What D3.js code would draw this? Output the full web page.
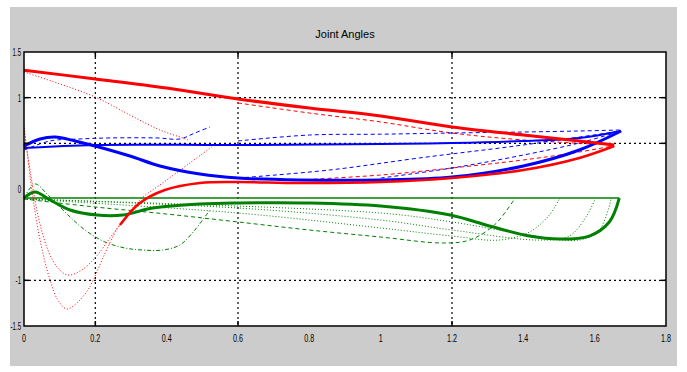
<!DOCTYPE html>
<html>
<head>
<meta charset="utf-8">
<script src="https://cdn.jsdelivr.net/npm/d3@7"></script>
<style>
  body { margin: 0; background: #fff; }
  text { font-family: "Liberation Sans", Arial, sans-serif; }
</style>
</head>
<body>
<div id="chart"></div>
<script>
// chart data: [time, angle]
const title = "Joint Angles";
const xTickValues = [0, 0.2, 0.4, 0.6, 0.8, 1, 1.2, 1.4, 1.6, 1.8];
const xTickLabels = ["0", "0.2", "0.4", "0.6", "0.8", "1", "1.2", "1.4", "1.6", "1.8"];
const yTickValues = [-1.5, -1, 0, 1, 1.5];
const yTickLabels = ["-1.5", "-1", "0", "1", "1.5"];
const xGrid = [0.2, 0.6, 1.2];
const yGrid = [-1, 0.5, 1];

const redTop = [[0,1.30],[0.2,1.205],[0.4,1.106],[0.6,0.986],[0.8,0.887],[1.0,0.80],[1.2,0.679],[1.4,0.591],[1.557,0.526],[1.655,0.482]];
const redTopDash = [[0.6,0.942],[0.8,0.832],[1.0,0.734],[1.2,0.613],[1.4,0.537],[1.65,0.482]];
const redLow = [[0.269,-0.394],[0.325,-0.153],[0.395,-0.011],[0.493,0.066],[0.6,0.077],[0.773,0.066],[1.0,0.077],[1.2,0.12],[1.4,0.208],[1.557,0.34],[1.655,0.471]];
const redDip1 = [[0,0.646],[0.017,0.208],[0.039,-0.285],[0.067,-0.668],[0.095,-0.865],[0.123,-0.942],[0.157,-0.898],[0.199,-0.756],[0.241,-0.537],[0.283,-0.318],[0.325,-0.142],[0.395,-0.011]];
const redDip2 = [[0,0.701],[0.022,-0.011],[0.045,-0.559],[0.073,-0.997],[0.095,-1.216],[0.12,-1.314],[0.151,-1.238],[0.179,-1.106],[0.19,-1.03],[0.26,-0.449],[0.325,-0.12],[0.389,0.066],[0.465,0.285],[0.526,0.46]];
const redShort = [[0,1.281],[0.101,1.15],[0.199,1.008],[0.297,0.81],[0.381,0.646],[0.445,0.559],[0.46,0.537]];
const redFan = [[0.773,0.099],[1.0,0.153],[1.2,0.23],[1.4,0.318],[1.557,0.405],[1.65,0.471]];

const blueFlat = [[0,0.449],[0.199,0.482],[0.6,0.482],[1.0,0.493],[1.2,0.504],[1.4,0.526],[1.557,0.559],[1.674,0.635]];
const blueLow = [[0,0.471],[0.045,0.548],[0.087,0.57],[0.143,0.526],[0.199,0.471],[0.297,0.361],[0.381,0.252],[0.493,0.164],[0.6,0.12],[0.773,0.099],[1.0,0.099],[1.2,0.131],[1.4,0.252],[1.557,0.427],[1.674,0.635]];
const blueShort = [[0,0.427],[0.073,0.526],[0.157,0.548],[0.241,0.559],[0.372,0.559],[0.437,0.548],[0.479,0.613],[0.521,0.679]];
const blueAbove = [[0.6,0.526],[0.8,0.591],[1.0,0.6],[1.2,0.613],[1.4,0.624],[1.557,0.635],[1.674,0.646]];
const blueFan1 = [[0.6,0.12],[0.857,0.208],[1.109,0.34],[1.4,0.482],[1.674,0.635]];
const blueFan2 = [[1.0,0.12],[1.2,0.23],[1.4,0.372],[1.557,0.504],[1.674,0.635]];

const greenFlat = [[0,-0.099],[1.669,-0.099]];
const greenThick = [[0,-0.099],[0.031,-0.033],[0.073,-0.12],[0.129,-0.23],[0.204,-0.285],[0.277,-0.285],[0.361,-0.208],[0.493,-0.164],[0.605,-0.153],[0.8,-0.153],[1.0,-0.186],[1.195,-0.285],[1.305,-0.405],[1.417,-0.515],[1.501,-0.548],[1.585,-0.515],[1.641,-0.361],[1.669,-0.099]];
const greenShort = [[0,-0.099],[0.031,0.055],[0.067,-0.066],[0.115,-0.252],[0.171,-0.449],[0.227,-0.58],[0.283,-0.646],[0.333,-0.668],[0.389,-0.668],[0.437,-0.613],[0.479,-0.449],[0.521,-0.23]];
const greenR1 = [[0,-0.11],[0.199,-0.197],[0.4,-0.274],[0.6,-0.361],[0.8,-0.449],[1.0,-0.526],[1.173,-0.591],[1.249,-0.559],[1.319,-0.394],[1.375,-0.11]];
const greenR2 = [[0,-0.11],[0.6,-0.263],[1.0,-0.427],[1.2,-0.515],[1.333,-0.559],[1.417,-0.471],[1.473,-0.285],[1.501,-0.11]];
const greenR3 = [[0,-0.11],[0.6,-0.208],[1.0,-0.34],[1.2,-0.449],[1.445,-0.559],[1.529,-0.515],[1.579,-0.285],[1.601,-0.11]];
const greenR4 = [[0,-0.11],[1.0,-0.263],[1.2,-0.361],[1.4,-0.493],[1.557,-0.559],[1.613,-0.449],[1.646,-0.11]];

const W = 687, H = 372;
const fig = { left: 10, top: 7, right: 677, bottom: 366 };
const ax = { left: 24, top: 52, right: 666, bottom: 326 };

const series = [
  { d: greenR4, c: "#008000", w: 1, dash: "1,2" },
  { d: greenR3, c: "#008000", w: 1, dash: "1,2" },
  { d: greenR2, c: "#008000", w: 1, dash: "1,2" },
  { d: greenR1, c: "#008000", w: 1, dash: "4,3" },
  { d: greenShort, c: "#008000", w: 1, dash: "4,2,1,2" },
  { d: greenFlat, c: "#008000", w: 1.5, dash: null },
  { d: greenThick, c: "#008000", w: 3, dash: null },
  { d: redDip1, c: "#ff0000", w: 1, dash: "1,2" },
  { d: redDip2, c: "#ff0000", w: 1, dash: "1,2" },
  { d: redShort, c: "#ff0000", w: 1, dash: "1,2" },
  { d: redFan, c: "#ff0000", w: 1, dash: "4,3" },
  { d: redTopDash, c: "#ff0000", w: 1, dash: "4,3" },
  { d: blueShort, c: "#0000ff", w: 1, dash: "4,3" },
  { d: blueAbove, c: "#0000ff", w: 1, dash: "4,3" },
  { d: blueFan1, c: "#0000ff", w: 1, dash: "4,3" },
  { d: blueFan2, c: "#0000ff", w: 1, dash: "4,3" },
  { d: blueFlat, c: "#0000ff", w: 2, dash: null },
  { d: blueLow, c: "#0000ff", w: 3, dash: null },
  { d: redLow, c: "#ff0000", w: 2.5, dash: null },
  { d: redTop, c: "#ff0000", w: 3, dash: null }
];

const svg = d3.select("#chart").append("svg")
  .attr("width", W)
  .attr("height", H);

svg.append("rect")
  .attr("x", fig.left).attr("y", fig.top)
  .attr("width", fig.right - fig.left).attr("height", fig.bottom - fig.top)
  .attr("fill", "#cccccc");

svg.append("rect")
  .attr("x", ax.left).attr("y", ax.top)
  .attr("width", ax.right - ax.left).attr("height", ax.bottom - ax.top)
  .attr("fill", "#ffffff");

const x = d3.scaleLinear().domain([0, 1.8]).range([ax.left, ax.right]);
const y = d3.scaleLinear().domain([-1.5, 1.5]).range([ax.bottom, ax.top]);

// dotted reference grid
svg.append("g").selectAll("line").data(xGrid).join("line")
  .attr("x1", d => x(d)).attr("x2", d => x(d))
  .attr("y1", ax.top).attr("y2", ax.bottom)
  .attr("stroke", "#000").attr("stroke-width", 1.2)
  .attr("stroke-dasharray", "2,3");

svg.append("g").selectAll("line").data(yGrid).join("line")
  .attr("x1", ax.left).attr("x2", ax.right)
  .attr("y1", d => y(d)).attr("y2", d => y(d))
  .attr("stroke", "#000").attr("stroke-width", 1.2)
  .attr("stroke-dasharray", "2,3");

const line = d3.line()
  .x(d => x(d[0]))
  .y(d => y(d[1]))
  .curve(d3.curveCatmullRom.alpha(0.5));

const plot = svg.append("g");
plot.selectAll("path").data(series).join("path")
  .attr("d", s => line(s.d))
  .attr("fill", "none")
  .attr("stroke", s => s.c)
  .attr("stroke-width", s => s.w)
  .attr("stroke-dasharray", s => s.dash)
  .attr("stroke-linejoin", "round");

// inward ticks where the grid lines meet the box
const tickLen = 5;
const ticks = svg.append("g").attr("stroke", "#000").attr("stroke-width", 1.5);
xGrid.forEach(v => {
  ticks.append("line").attr("x1", x(v)).attr("x2", x(v)).attr("y1", ax.bottom).attr("y2", ax.bottom - tickLen);
  ticks.append("line").attr("x1", x(v)).attr("x2", x(v)).attr("y1", ax.top).attr("y2", ax.top + tickLen);
});
yGrid.forEach(v => {
  ticks.append("line").attr("x1", ax.left).attr("x2", ax.left + tickLen).attr("y1", y(v)).attr("y2", y(v));
  ticks.append("line").attr("x1", ax.right).attr("x2", ax.right - tickLen).attr("y1", y(v)).attr("y2", y(v));
});

// box
svg.append("rect")
  .attr("x", ax.left).attr("y", ax.top)
  .attr("width", ax.right - ax.left).attr("height", ax.bottom - ax.top)
  .attr("fill", "none").attr("stroke", "#000").attr("stroke-width", 1.5);

// tick labels, squeezed sideways like the narrow glyphs of the original
svg.append("g").selectAll("text").data(xTickValues).join("text")
  .attr("transform", d => `translate(${x(d)},${ax.bottom + 16}) scale(0.65,1)`)
  .attr("text-anchor", "middle")
  .attr("font-size", 11)
  .text((d, i) => xTickLabels[i]);

svg.append("g").selectAll("text").data(yTickValues).join("text")
  .attr("transform", d => `translate(${ax.left - 3},${y(d) + 4}) scale(0.55,1)`)
  .attr("text-anchor", "end")
  .attr("font-size", 11)
  .text((d, i) => yTickLabels[i]);

svg.append("text")
  .attr("x", (ax.left + ax.right) / 2).attr("y", ax.top - 14)
  .attr("text-anchor", "middle")
  .attr("font-size", 11)
  .text(title);
</script>
</body>
</html>
